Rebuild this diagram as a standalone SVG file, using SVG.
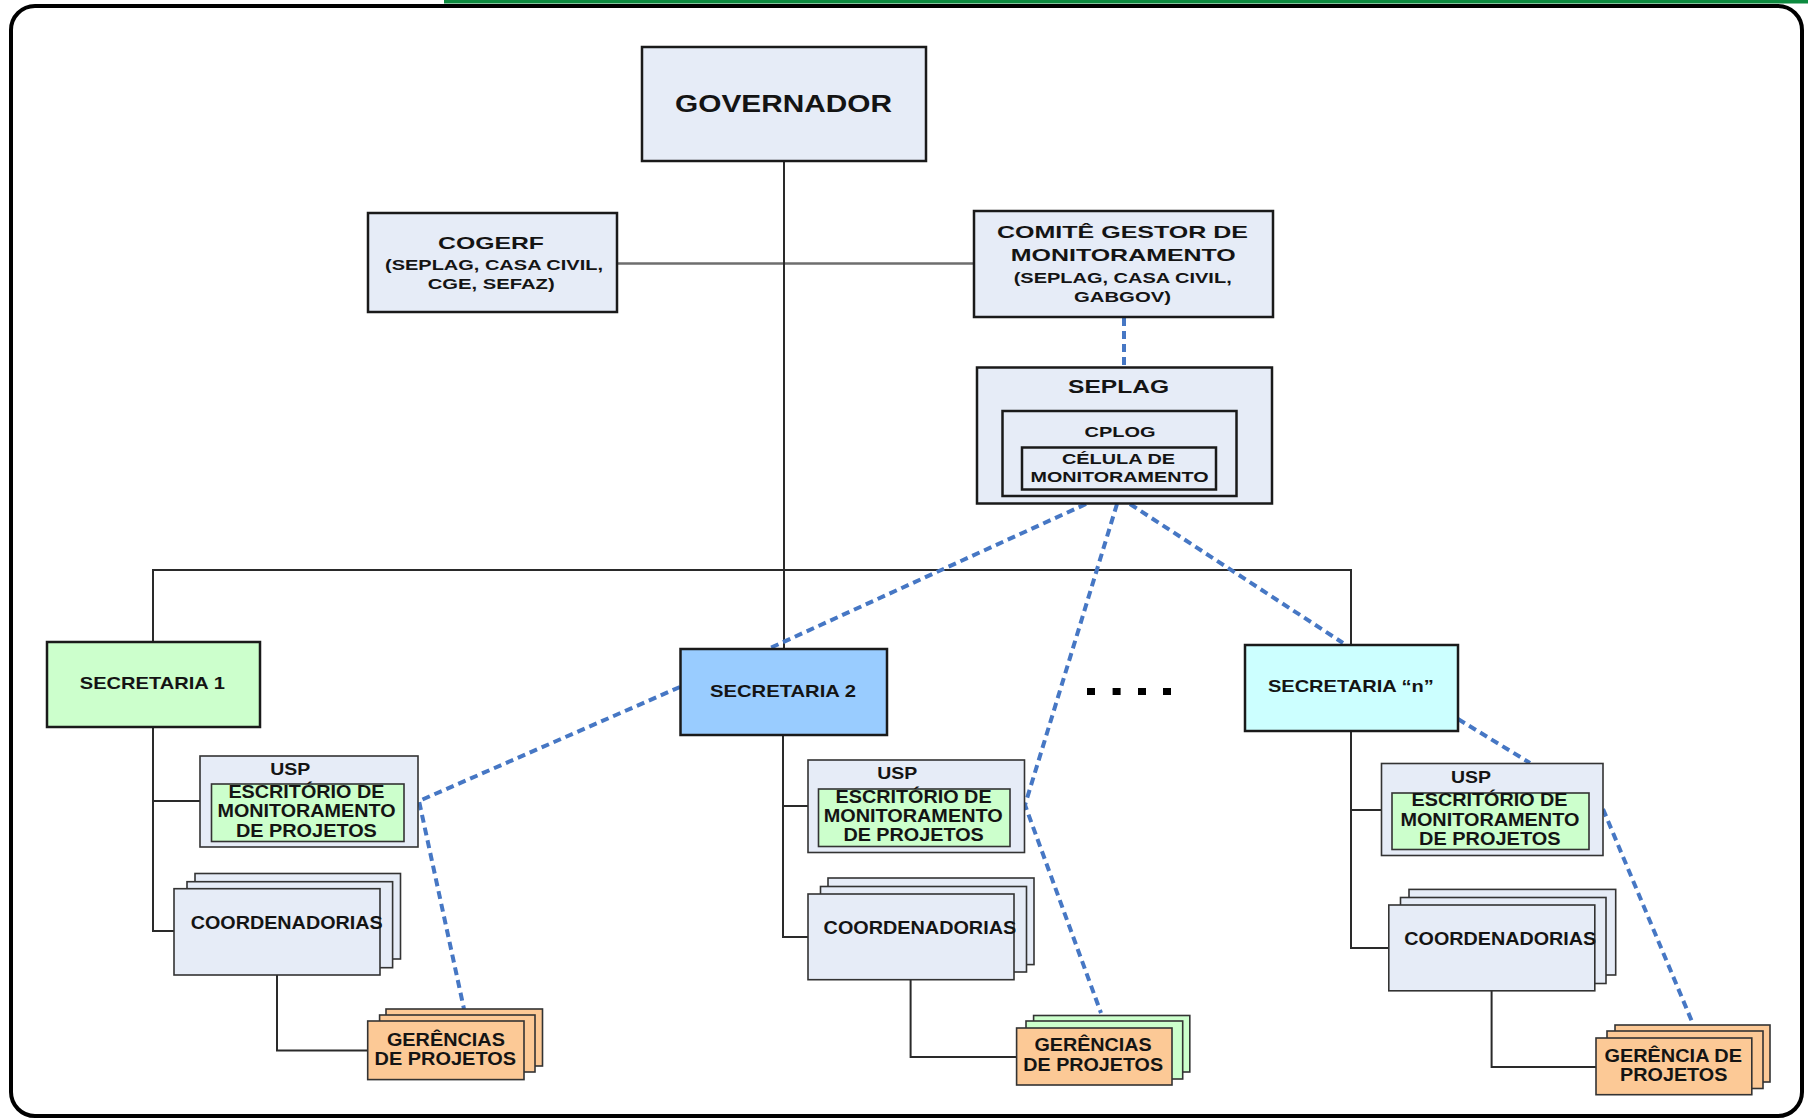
<svg xmlns="http://www.w3.org/2000/svg" width="1808" height="1118" viewBox="0 0 1808 1118">
<style>
text{font-family:"Liberation Sans",Arial,sans-serif;font-weight:bold;fill:#141414;text-anchor:middle}
.box{fill:#E6ECF7;stroke:#1a1a1a;stroke-width:2.5}
.sbox{fill:#E6ECF7;stroke:#333;stroke-width:1.6}
.green{fill:#CCFFCC;stroke:#333;stroke-width:1.6}
.orange{fill:#FCC996;stroke:#333;stroke-width:1.6}
.solid{fill:none;stroke:#2a2a2a;stroke-width:2}
.gray{fill:none;stroke:#6e6e6e;stroke-width:2.5}
.dash{fill:none;stroke:#4677C4;stroke-width:4;stroke-dasharray:8 5}
</style>
<rect x="444" y="0" width="1364" height="3.5" fill="#0d8a3f"/>
<rect x="11" y="6" width="1791" height="1110" rx="24" ry="24" fill="#fff" stroke="#000" stroke-width="4"/>

<g id="connectors">
<line class="gray" x1="617" y1="263.5" x2="974" y2="263.5"/>
<line class="solid" x1="784" y1="161" x2="784" y2="649"/>
<polyline class="solid" points="153,642 153,570 1351,570 1351,645"/>
<polyline class="solid" points="153,727 153,931 174,931"/>
<line class="solid" x1="153" y1="801" x2="200" y2="801"/>
<polyline class="solid" points="783,735 783,937 808,937"/>
<line class="solid" x1="783" y1="806" x2="808" y2="806"/>
<polyline class="solid" points="1351,731 1351,948 1389,948"/>
<line class="solid" x1="1351" y1="810" x2="1381.5" y2="810"/>
<polyline class="solid" points="277,975 277,1050.5 368,1050.5"/>
<polyline class="solid" points="910.6,980 910.6,1057 1016.6,1057"/>
<polyline class="solid" points="1491.6,991 1491.6,1067 1596,1067"/>
<line class="dash" x1="1124" y1="318" x2="1124" y2="367"/>
<line class="dash" x1="1086" y1="504" x2="768" y2="649"/>
<polyline class="dash" points="1117,504 1025,805 1101,1013"/>
<line class="dash" x1="1130" y1="504" x2="1343" y2="643"/>
<polyline class="dash" points="680,687 419,801 464,1009"/>
<line class="dash" x1="1458" y1="719" x2="1530" y2="763"/>
<line class="dash" x1="1603" y1="809" x2="1693" y2="1024"/>
</g>

<g id="governador">
<rect class="box" x="642" y="47" width="284" height="114"/>
<text x="783.5" y="111.5" font-size="23" textLength="217" lengthAdjust="spacingAndGlyphs">GOVERNADOR</text>
</g>

<g id="cogerf">
<rect class="box" x="368" y="213" width="249" height="99"/>
<text x="491" y="249" font-size="17" textLength="106" lengthAdjust="spacingAndGlyphs">COGERF</text>
<text x="494" y="270" font-size="15.5" textLength="218" lengthAdjust="spacingAndGlyphs">(SEPLAG, CASA CIVIL,</text>
<text x="491.2" y="289" font-size="15.5" textLength="127" lengthAdjust="spacingAndGlyphs">CGE, SEFAZ)</text>
</g>

<g id="comite">
<rect class="box" x="974" y="211" width="299" height="106"/>
<text x="1122.5" y="237.5" font-size="17" textLength="251" lengthAdjust="spacingAndGlyphs">COMITÊ GESTOR DE</text>
<text x="1123.3" y="261" font-size="17" textLength="225" lengthAdjust="spacingAndGlyphs">MONITORAMENTO</text>
<text x="1122.7" y="283" font-size="15.5" textLength="218" lengthAdjust="spacingAndGlyphs">(SEPLAG, CASA CIVIL,</text>
<text x="1122.5" y="302" font-size="15.5" textLength="97" lengthAdjust="spacingAndGlyphs">GABGOV)</text>
</g>

<g id="seplag">
<rect class="box" x="977" y="367.5" width="295" height="136"/>
<text x="1118.5" y="393.3" font-size="17.5" textLength="101" lengthAdjust="spacingAndGlyphs">SEPLAG</text>
<rect class="box" x="1002.5" y="411" width="234" height="85" stroke-width="2"/>
<text x="1120" y="437.3" font-size="15" textLength="71" lengthAdjust="spacingAndGlyphs">CPLOG</text>
<rect class="box" x="1022" y="447.5" width="194" height="42" stroke-width="2"/>
<text x="1118.5" y="463.8" font-size="15" textLength="113" lengthAdjust="spacingAndGlyphs">CÉLULA DE</text>
<text x="1119.5" y="481.5" font-size="15" textLength="178" lengthAdjust="spacingAndGlyphs">MONITORAMENTO</text>
</g>

<g id="secretaria1">
<rect class="box" x="47" y="642" width="213" height="85" style="fill:#CCFFCC"/>
<text x="152.3" y="689" font-size="17" textLength="145" lengthAdjust="spacingAndGlyphs">SECRETARIA 1</text>
</g>
<g id="secretaria2">
<rect class="box" x="680.5" y="649" width="206.5" height="86" style="fill:#99CCFF"/>
<text x="783" y="696.7" font-size="17" textLength="146" lengthAdjust="spacingAndGlyphs">SECRETARIA 2</text>
</g>
<g id="secretarian">
<rect class="box" x="1245" y="645" width="213" height="86" style="fill:#CCFFFF"/>
<text x="1350.9" y="692.2" font-size="17" textLength="166" lengthAdjust="spacingAndGlyphs">SECRETARIA “n”</text>
</g>

<g id="usp1">
<rect class="sbox" x="200" y="756" width="218" height="91"/>
<text x="290.2" y="774.8" font-size="17" textLength="40" lengthAdjust="spacingAndGlyphs">USP</text>
<rect class="green" x="211.5" y="784" width="192.5" height="57.5"/>
<text x="306.4" y="798" font-size="18" textLength="156" lengthAdjust="spacingAndGlyphs">ESCRITÓRIO DE</text>
<text x="306.5" y="817.2" font-size="18" textLength="178" lengthAdjust="spacingAndGlyphs">MONITORAMENTO</text>
<text x="306.4" y="836.7" font-size="18" textLength="141" lengthAdjust="spacingAndGlyphs">DE PROJETOS</text>
</g>
<g id="usp2">
<rect class="sbox" x="808" y="760" width="216.5" height="92.5"/>
<text x="897.2" y="778.8" font-size="17" textLength="40" lengthAdjust="spacingAndGlyphs">USP</text>
<rect class="green" x="818.5" y="789" width="191.5" height="57.5"/>
<text x="913.6" y="802.8" font-size="18" textLength="156" lengthAdjust="spacingAndGlyphs">ESCRITÓRIO DE</text>
<text x="913.2" y="822" font-size="18" textLength="179" lengthAdjust="spacingAndGlyphs">MONITORAMENTO</text>
<text x="913.6" y="841.1" font-size="18" textLength="140.4" lengthAdjust="spacingAndGlyphs">DE PROJETOS</text>
</g>
<g id="uspn">
<rect class="sbox" x="1381.5" y="763.5" width="221.5" height="92"/>
<text x="1471" y="782.5" font-size="17" textLength="40" lengthAdjust="spacingAndGlyphs">USP</text>
<rect class="green" x="1392" y="793" width="197" height="56.5"/>
<text x="1489.5" y="806.1" font-size="18" textLength="156" lengthAdjust="spacingAndGlyphs">ESCRITÓRIO DE</text>
<text x="1489.9" y="825.7" font-size="18" textLength="179" lengthAdjust="spacingAndGlyphs">MONITORAMENTO</text>
<text x="1489.8" y="844.8" font-size="18" textLength="141.5" lengthAdjust="spacingAndGlyphs">DE PROJETOS</text>
</g>

<g id="coordenadorias1">
<rect class="sbox" x="195" y="873.5" width="205.5" height="85.5"/>
<rect class="sbox" x="187" y="881.7" width="205.6" height="86"/>
<rect class="sbox" x="174" y="888.7" width="206" height="86.3"/>
<text x="286.7" y="928.9" font-size="18" textLength="192" lengthAdjust="spacingAndGlyphs">COORDENADORIAS</text>
</g>
<g id="coordenadorias2">
<rect class="sbox" x="828" y="878" width="206" height="86.6"/>
<rect class="sbox" x="820.5" y="886.5" width="206" height="85.5"/>
<rect class="sbox" x="808" y="894" width="206" height="85.7"/>
<text x="919.9" y="933.7" font-size="18" textLength="192.6" lengthAdjust="spacingAndGlyphs">COORDENADORIAS</text>
</g>
<g id="coordenadoriasn">
<rect class="sbox" x="1409" y="889.4" width="206.7" height="85.6"/>
<rect class="sbox" x="1400.5" y="897.5" width="205.5" height="86"/>
<rect class="sbox" x="1388.8" y="905" width="206" height="85.8"/>
<text x="1500.3" y="944.7" font-size="18" textLength="192" lengthAdjust="spacingAndGlyphs">COORDENADORIAS</text>
</g>

<g id="gerencias1">
<rect class="orange" x="386" y="1009" width="156.5" height="57"/>
<rect class="orange" x="379.6" y="1015" width="155.4" height="57"/>
<rect class="orange" x="367.7" y="1021" width="156.3" height="58.6"/>
<text x="445.9" y="1045.7" font-size="18" textLength="118" lengthAdjust="spacingAndGlyphs">GERÊNCIAS</text>
<text x="445.3" y="1064.9" font-size="18" textLength="141.5" lengthAdjust="spacingAndGlyphs">DE PROJETOS</text>
</g>
<g id="gerencias2">
<rect class="green" x="1033.6" y="1015.5" width="156.2" height="56.5"/>
<rect class="green" x="1026" y="1021" width="156.7" height="58"/>
<rect class="orange" x="1016.6" y="1028" width="155.4" height="57"/>
<text x="1093.1" y="1051" font-size="18" textLength="117.4" lengthAdjust="spacingAndGlyphs">GERÊNCIAS</text>
<text x="1093.2" y="1070.8" font-size="18" textLength="139.7" lengthAdjust="spacingAndGlyphs">DE PROJETOS</text>
</g>
<g id="gerencian">
<rect class="orange" x="1615" y="1025" width="155" height="57"/>
<rect class="orange" x="1607" y="1031" width="156" height="57.5"/>
<rect class="orange" x="1596" y="1038" width="155.8" height="56.7"/>
<text x="1673.2" y="1061.6" font-size="18" textLength="137.6" lengthAdjust="spacingAndGlyphs">GERÊNCIA DE</text>
<text x="1673.7" y="1080.7" font-size="18" textLength="107.3" lengthAdjust="spacingAndGlyphs">PROJETOS</text>
</g>

<g id="ellipsis" fill="#000">
<rect x="1087" y="688" width="8" height="7"/>
<rect x="1112.6" y="688" width="8" height="7"/>
<rect x="1138" y="688" width="8" height="7"/>
<rect x="1163" y="688" width="8" height="7"/>
</g>
</svg>
